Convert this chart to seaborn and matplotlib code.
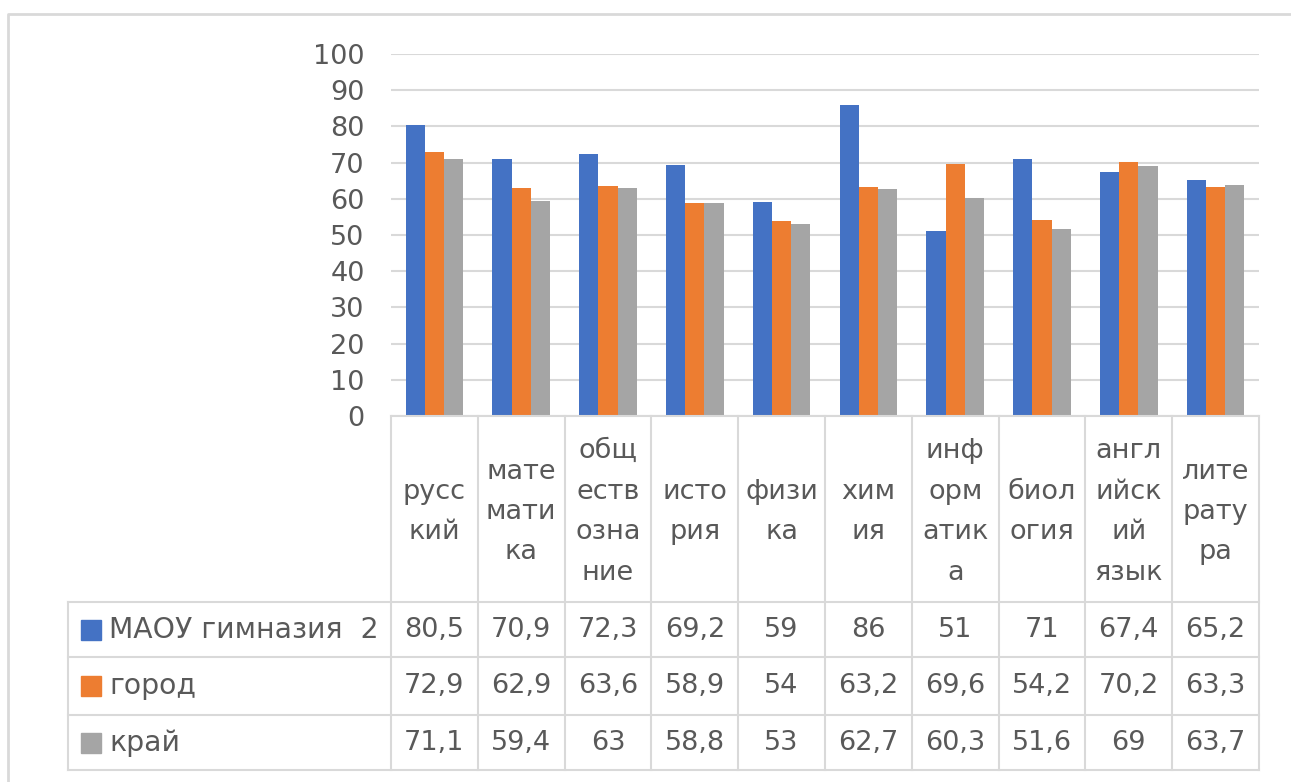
import matplotlib
matplotlib.use('Agg')
import matplotlib.pyplot as plt
import seaborn as sns
import pandas as pd
from matplotlib.lines import Line2D

# данные диаграммы
subjects = ['русский', 'математика', 'обществознание', 'история', 'физика',
            'химия', 'информатика', 'биология', 'английский язык', 'литература']
# подписи так, как они переносятся в таблице данных
subject_labels = ['русс\nкий', 'мате\nмати\nка', 'общ\nеств\nозна\nние', 'исто\nрия',
                  'физи\nка', 'хим\nия', 'инф\nорм\nатик\nа', 'биол\nогия',
                  'англ\nийск\nий\nязык', 'лите\nрату\nра']
groups = ['МАОУ гимназия  2', 'город', 'край']
school = [80.5, 70.9, 72.3, 69.2, 59, 86, 51, 71, 67.4, 65.2]
city = [72.9, 62.9, 63.6, 58.9, 54, 63.2, 69.6, 54.2, 70.2, 63.3]
region = [71.1, 59.4, 63, 58.8, 53, 62.7, 60.3, 51.6, 69, 63.7]
colors = ['#4472C4', '#ED7D31', '#A5A5A5']
y_ticks = list(range(0, 101, 10))

series = [school, city, region]
df = pd.DataFrame({
    'subject': subjects * 3,
    'group': [g for g in groups for _ in subjects],
    'score': school + city + region,
})

TXT = '#595959'
GRID = '#d9d9d9'
FS = 19.5

sns.set_theme(style='white')
plt.rcParams['font.family'] = ['DejaVu Sans']

W, H = 1291, 782
fig = plt.figure(figsize=(W / 100, H / 100), dpi=100)

# область графика в пикселях
x0, x1 = 391, 1259
y_top, y_zero = 54, 416
ax = fig.add_axes([x0 / W, 1 - y_zero / H, (x1 - x0) / W, (y_zero - y_top) / H])
sns.barplot(data=df, x='subject', y='score', hue='group', palette=colors,
            width=0.664, gap=0, saturation=1, ax=ax, legend=False, errorbar=None,
            linewidth=0)
ax.set_xlim(-0.5, len(subjects) - 0.5)
ax.set_ylim(0, 100)
ax.set_yticks(y_ticks)
ax.set_yticklabels([str(t) for t in y_ticks], fontsize=FS, color=TXT)
ax.tick_params(axis='y', length=0, pad=19)
ax.set_xticks([])
ax.set_xlabel('')
ax.set_ylabel('')
for s in ax.spines.values():
    s.set_visible(False)
ax.yaxis.grid(True, color=GRID, linewidth=1.5)
ax.set_axisbelow(True)

# таблица данных под графиком
col_w = (x1 - x0) / len(subjects)
leg_left = 68
tax = fig.add_axes([leg_left / W, 1 - 770 / H, (x1 - leg_left) / W, (770 - y_zero) / H])
xl = -0.5 - (x0 - leg_left) / col_w
tax.set_xlim(xl, len(subjects) - 0.5)
tax.set_ylim(770, y_zero)
tax.axis('off')


def px2x(px):
    return -0.5 + (px - x0) / col_w


row_edges = [y_zero, 602, 657, 715, 770]
lk = dict(color=GRID, linewidth=1.5, clip_on=False, solid_capstyle='projecting')
# горизонтальные линии
tax.plot([-0.5, len(subjects) - 0.5], [y_zero, y_zero], **lk)
for y in row_edges[1:]:
    tax.plot([xl, len(subjects) - 0.5], [y, y], **lk)
# вертикальные линии
for i in range(len(subjects) + 1):
    tax.plot([i - 0.5, i - 0.5], [y_zero, 770], **lk)
tax.plot([xl, xl], [602, 770], **lk)

# подписи предметов
for i, lab in enumerate(subject_labels):
    tax.text(i, (y_zero + 602) / 2 + 3, lab, ha='center', va='center',
             fontsize=FS, color=TXT, linespacing=1.72)

# строки значений
for r, (g, vals, c) in enumerate(zip(groups, series, colors)):
    yc = (row_edges[r + 1] + row_edges[r + 2]) / 2
    tax.plot([px2x(91)], [yc], marker='s', markersize=14.5, color=c,
             linestyle='none', clip_on=False)
    tax.text(px2x(109), yc, g, ha='left', va='center', fontsize=20.3, color=TXT)
    for i, v in enumerate(vals):
        s = f'{v:g}'.replace('.', ',')
        tax.text(i, yc, s, ha='center', va='center', fontsize=FS, color=TXT)

# рамка области диаграммы
fig.add_artist(Line2D([8 / W, 8 / W, 1.0], [0.0, 1 - 14 / H, 1 - 14 / H],
                      transform=fig.transFigure, color=GRID, linewidth=2))

fig.savefig('out.png', dpi=100)
